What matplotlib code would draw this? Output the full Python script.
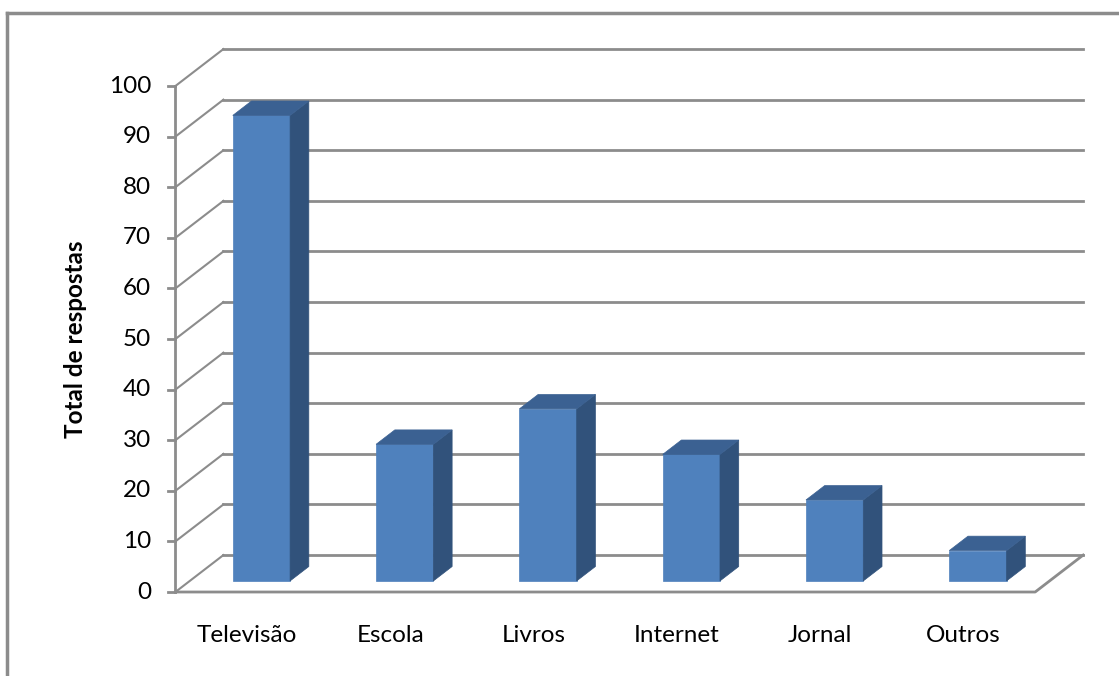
import matplotlib
matplotlib.use('Agg')
import matplotlib.pyplot as plt
from matplotlib.patches import Polygon
from matplotlib.lines import Line2D

plt.rcParams['font.family'] = ['Lato', 'DejaVu Sans']

# dados
categorias = ['Televisão', 'Escola', 'Livros', 'Internet', 'Jornal', 'Outros']
respostas = [92, 27, 34, 25, 16, 6]
yticks = list(range(0, 101, 10))
ylabel = 'Total de respostas'

# cores estilo Excel 3D
c_frente = '#4f81bd'
c_lado = '#31527b'
c_topo = '#3b6192'
c_grade = '#8c8c8c'

# projeção oblíqua: profundidade 1 -> deslocamento (ddx, ddy) em unidades de dados
ddx, ddy = 0.335, 7.3
larg = 0.40      # largura da barra
z0, z1 = 0.30, 0.69  # profundidade da frente e de trás da barra

fig = plt.figure(figsize=(11.19, 6.76), dpi=100)
ax = fig.add_axes([0, 0, 1, 1])
ax.set_xlim(-1.724, 6.085)
ax.set_ylim(-16.6, 117.0)
ax.axis('off')

n = len(categorias)
x0, x1 = -0.5, n - 0.5

# parede lateral e parede de fundo
for v in yticks:
    ax.plot([x0, x0 + ddx], [v, v + ddy], color=c_grade, lw=1.5, zorder=1)
    ax.plot([x0 + ddx, x1 + ddx], [v + ddy, v + ddy], color=c_grade, lw=2, zorder=1)
    ax.plot([x0 - 0.05, x0], [v, v], color=c_grade, lw=2, zorder=1)
    ax.text(x0 - 0.17, v, str(v), ha='right', va='center', fontsize=17.5, color='black')

# eixo vertical da frente
ax.plot([x0, x0], [0, yticks[-1]], color=c_grade, lw=2, zorder=1)

# chão
ax.plot([x0, x1, x1 + ddx], [0, 0, ddy], color=c_grade, lw=2, zorder=1)

# barras
for i, (cat, v) in enumerate(zip(categorias, respostas)):
    xl = i - larg / 2 + z0 * ddx
    xr = xl + larg
    yb = z0 * ddy
    d_x = (z1 - z0) * ddx
    d_y = (z1 - z0) * ddy
    frente = Polygon([(xl, yb), (xr, yb), (xr, yb + v), (xl, yb + v)],
                     closed=True, facecolor=c_frente, edgecolor=c_frente, lw=0.5, zorder=3)
    lado = Polygon([(xr, yb), (xr + d_x, yb + d_y), (xr + d_x, yb + v + d_y), (xr, yb + v)],
                   closed=True, facecolor=c_lado, edgecolor=c_lado, lw=0.5, zorder=3)
    topo = Polygon([(xl, yb + v), (xr, yb + v), (xr + d_x, yb + v + d_y), (xl + d_x, yb + v + d_y)],
                   closed=True, facecolor=c_topo, edgecolor=c_topo, lw=0.5, zorder=3)
    for p in (frente, lado, topo):
        ax.add_patch(p)
    ax.text(i, -8.5, cat, ha='center', va='center', fontsize=17.5, color='black')

ax.text(-1.195, 50, ylabel, rotation=90, ha='center', va='center',
        fontsize=17.5, fontweight='bold', color='black')

# moldura externa
fig.add_artist(Line2D([7 / 1119, 7 / 1119], [0, 1 - 13 / 676], color='#8c8c8c', lw=2.5,
                      transform=fig.transFigure))
fig.add_artist(Line2D([7 / 1119, 1], [1 - 13 / 676, 1 - 13 / 676], color='#8c8c8c', lw=2.5,
                      transform=fig.transFigure))

fig.savefig('out.png', dpi=100, facecolor='white')
